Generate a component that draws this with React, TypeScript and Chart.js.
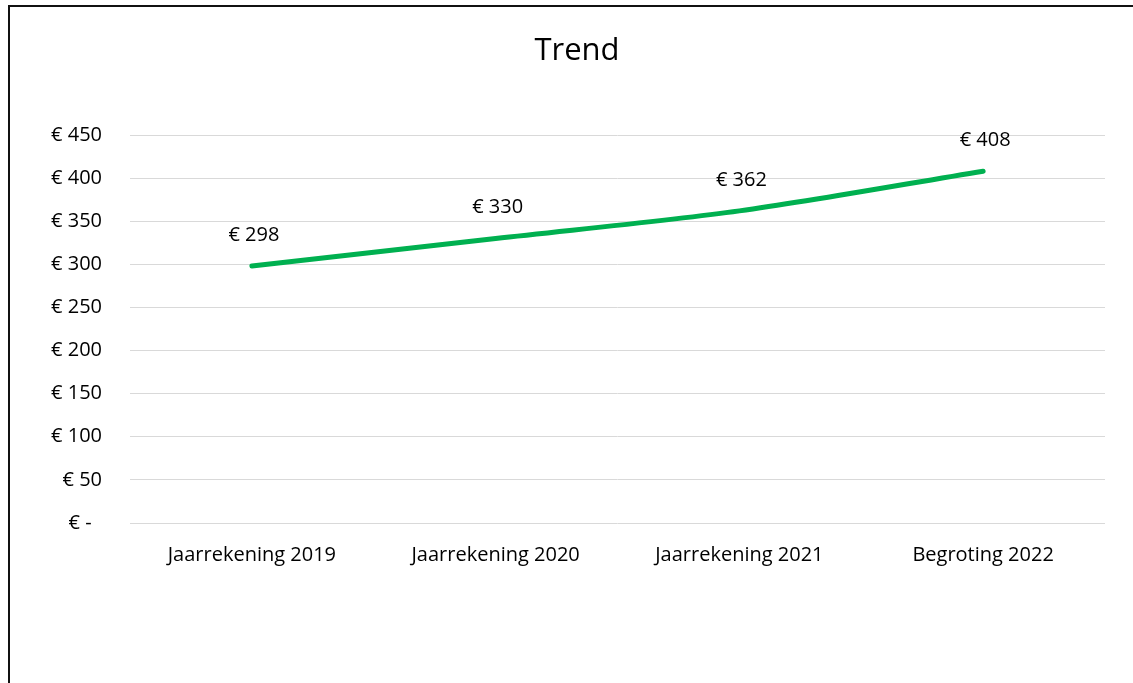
import React, { useEffect, useRef } from "react";
import { Chart, registerables } from "chart.js";

Chart.register(...registerables);

const categories = ["Jaarrekening 2019", "Jaarrekening 2020", "Jaarrekening 2021", "Begroting 2022"];
const values = [298, 330, 362, 408];
const yTicks = [0, 50, 100, 150, 200, 250, 300, 350, 400, 450];

const FONT = "'Open Sans', 'Liberation Sans', sans-serif";

const fmt = (v: number) => (v === 0 ? "€ -  " : "€ " + v);

const labelPlugin = {
  id: "pointLabels",
  afterDatasetsDraw(chart: any) {
    const ctx = chart.ctx;
    const meta = chart.getDatasetMeta(0);
    ctx.save();
    ctx.font = "20px " + FONT;
    ctx.fillStyle = "#000";
    ctx.textAlign = "center";
    ctx.textBaseline = "middle";
    meta.data.forEach((pt: any, i: number) => {
      ctx.fillText("€ " + values[i], pt.x + 2, pt.y - 31);
    });
    ctx.restore();
  },
};

const titlePlugin = {
  id: "customTitle",
  afterDraw(chart: any) {
    const ctx = chart.ctx;
    ctx.save();
    ctx.font = "31px " + FONT;
    ctx.fillStyle = "#000";
    ctx.textAlign = "center";
    ctx.textBaseline = "middle";
    ctx.fillText("Trend", 567, 44);
    ctx.restore();
  },
};

export default function App() {
  const ref = useRef<HTMLCanvasElement>(null);
  useEffect(() => {
    document.body.style.overflow = "hidden";
    const chart = new Chart(ref.current!, {
      type: "line",
      data: {
        labels: categories,
        datasets: [
          {
            data: values,
            borderColor: "#00B050",
            borderWidth: 5,
            borderCapStyle: "round",
            pointRadius: 0,
            tension: 0.3,
            fill: false,
          },
        ],
      },
      plugins: [labelPlugin, titlePlugin],
      options: {
        animation: false,
        responsive: false,
        layout: { padding: { top: 128, right: 51, bottom: 140, left: 0 } },
        plugins: { legend: { display: false }, tooltip: { enabled: false }, title: { display: false } },
        scales: {
          x: {
            offset: true,
            grid: { display: false, drawTicks: false },
            border: { display: false },
            ticks: { color: "#000", font: { size: 20, family: FONT }, padding: 20, maxRotation: 0 },
            afterFit: (s: any) => { s.height = 60; },
          },
          y: {
            min: 0,
            max: 450,
            afterBuildTicks: (s: any) => { s.ticks = yTicks.map((v) => ({ value: v })); },
            grid: { color: "#D9D9D9", lineWidth: 1, drawTicks: false },
            border: { display: false },
            ticks: { color: "#000", font: { size: 20, family: FONT }, padding: 28, callback: (v: any) => fmt(Number(v)) },
            afterFit: (s: any) => { s.width = 120; },
          },
        },
      },
    });
    return () => chart.destroy();
  }, []);
  return (
    <div style={{ position: "fixed", inset: 0, overflow: "hidden", background: "#fff" }}>
      <div style={{ position: "absolute", left: 8, top: 5, width: 1150, height: 720, border: "2px solid #111", boxSizing: "border-box" }}>
        <canvas ref={ref} width={1146} height={716} style={{ display: "block" }} />
      </div>
    </div>
  );
}
